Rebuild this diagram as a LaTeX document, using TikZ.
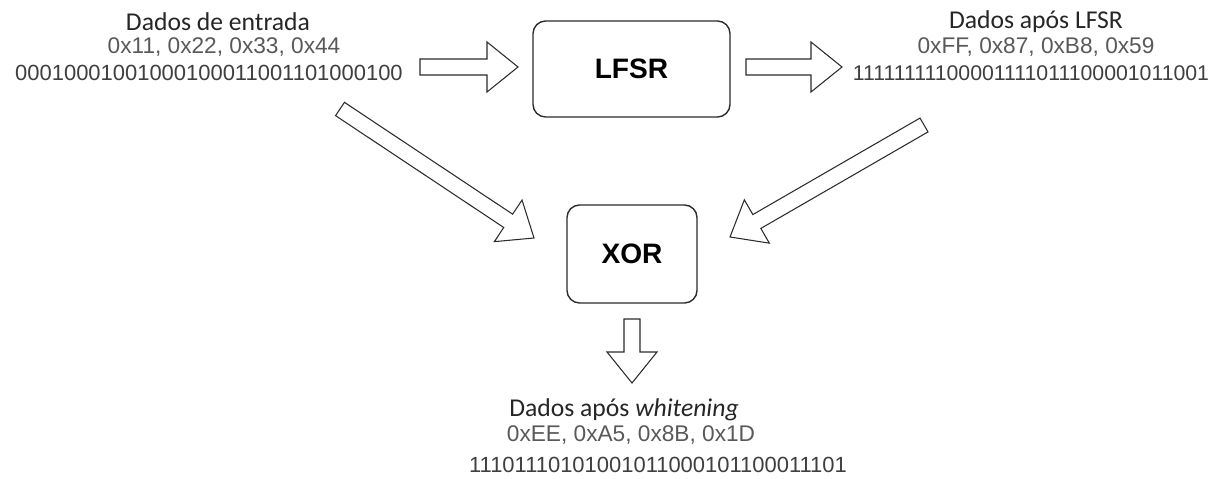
\documentclass[tikz,border=0pt]{standalone}
\usepackage{fontspec}
\setmainfont{Carlito}
\newfontfamily\arialfont{Liberation Sans}
\usetikzlibrary{positioning,calc}

\definecolor{titlegray}{HTML}{262626}
\definecolor{hexgray}{HTML}{595959}
\definecolor{bingray}{HTML}{3F3F3F}
\definecolor{linegray}{HTML}{2B2B2B}

\newcommand{\blockarrow}[2]{%
  \coordinate (#2-base) at ($(#2)!0.62cm!(#1)$);
  \draw[hollow] ($(#1)!0.16cm!90:(#2)$) -- ($(#2-base)!0.16cm!90:(#2)$)
    -- ($(#2-base)!0.5cm!90:(#2)$) -- (#2) -- ($(#2-base)!0.5cm!-90:(#2)$)
    -- ($(#2-base)!0.16cm!-90:(#2)$) -- ($(#1)!0.16cm!-90:(#2)$) -- cycle;}

\begin{document}
\begin{tikzpicture}[x=0.02cm,y=-0.02cm,
        title/.style={text=titlegray,font=\fontsize{14.6}{16}\selectfont,inner sep=0pt},
        hexline/.style={text=hexgray,font=\arialfont\fontsize{12.9}{14}\selectfont,inner sep=0pt},
        binline/.style={text=bingray,font=\arialfont\fontsize{12.5}{14}\selectfont,inner sep=0pt},
        block/.style={draw=linegray,line width=0.8pt,rounded corners=0.25cm,
          font=\arialfont\bfseries\fontsize{16}{18}\selectfont},
        hollow/.style={draw=linegray,line width=0.6pt,fill=white,line join=miter}]

  \useasboundingbox (0,0) rectangle (1230,479);

  \node[title] (intitle) at (218,22) {Dados de entrada};
  \node[hexline] (inhex) at (224,47) {0x11, 0x22, 0x33, 0x44};
  \node[binline] (inbin) at (209,73) {00010001001000100011001101000100};

  \node[title] (lfsrtitle) at (1036,22) {Dados após LFSR};
  \node[hexline] (lfsrhex) at (1036,47) {0xFF, 0x87, 0xB8, 0x59};
  \node[binline,font=\arialfont\fontsize{12.1}{14}\selectfont] (lfsrbin) at (1031,73) {11111111100001111011100001011001};

  \node[title] (outtitle) at (624,410) {Dados após \textit{whitening}};
  \node[hexline] (outhex) at (631,435) {0xEE, 0xA5, 0x8B, 0x1D};
  \node[binline] (outbin) at (658,465) {11101110101001011000101100011101};

  \node[block,minimum width=3.94cm,minimum height=1.92cm] (lfsr) at (631.5,69) {LFSR};
  \node[block,minimum width=2.6cm,minimum height=1.96cm] (xor) at (632,254) {XOR};

  \coordinate (in-tail) at (420,67);
  \coordinate (in-tip) at (518,67);
  \coordinate (lfsr-tail) at (746,67);
  \coordinate (lfsr-tip) at (842,67);
  \coordinate (inxor-tail) at (340,109);
  \coordinate (inxor-tip) at (534,238);
  \coordinate (lfsrxor-tail) at (924,125);
  \coordinate (lfsrxor-tip) at (730,237);
  \coordinate (out-tail) at (632,319);
  \coordinate (out-tip) at (632,383);

  \blockarrow{in-tail}{in-tip}
  \blockarrow{lfsr-tail}{lfsr-tip}
  \blockarrow{inxor-tail}{inxor-tip}
  \blockarrow{lfsrxor-tail}{lfsrxor-tip}
  \blockarrow{out-tail}{out-tip}

\end{tikzpicture}
\end{document}
